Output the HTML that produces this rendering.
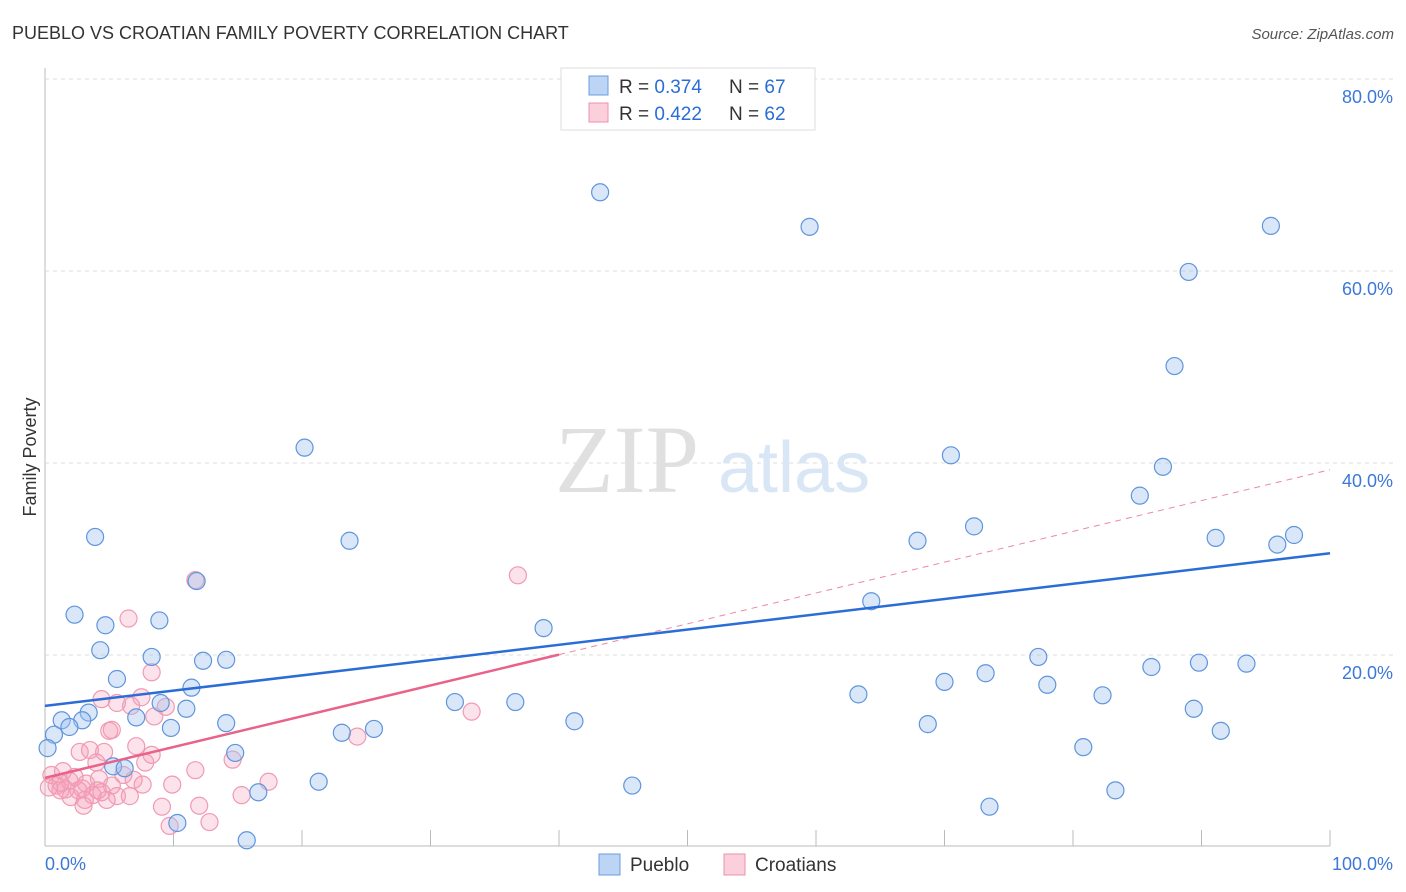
<!DOCTYPE html>
<html><head><meta charset="utf-8"><style>
body{margin:0;background:#fff;font-family:"Liberation Sans",sans-serif}
</style></head><body>
<svg id="chart" width="1406" height="892" style="display:block">
<text x="12" y="39" font-size="18" fill="#333">PUEBLO VS CROATIAN FAMILY POVERTY CORRELATION CHART</text>
<text x="1394" y="39" font-size="15" font-style="italic" fill="#555" text-anchor="end">Source: ZipAtlas.com</text>
<text x="36" y="457" font-size="18" fill="#333" transform="rotate(-90 36 457)" text-anchor="middle">Family Poverty</text>
<g id="grid"></g>
<text x="555" y="492" font-size="96" fill="#e0e0e0" font-family="Liberation Serif">ZIP</text>
<text x="718" y="492" font-size="72" fill="#d9e6f6">atlas</text>
<g id="pts"></g>
<g id="lines"></g>
<g>
<rect x="561" y="68" width="254" height="62" fill="#fff" stroke="#ddd"/>
<rect x="589" y="76" width="19" height="19" fill="#bcd5f5" stroke="#6a9be0"/>
<text x="619" y="93" font-size="19" fill="#333">R = <tspan fill="#2a6dd6">0.374</tspan></text>
<text x="729" y="93" font-size="19" fill="#333">N = <tspan fill="#2a6dd6">67</tspan></text>
<rect x="589" y="103" width="19" height="19" fill="#fbd0dc" stroke="#ee8fab"/>
<text x="619" y="120" font-size="19" fill="#333">R = <tspan fill="#2a6dd6">0.422</tspan></text>
<text x="729" y="120" font-size="19" fill="#333">N = <tspan fill="#2a6dd6">62</tspan></text>
</g>
<g>
<rect x="599" y="854" width="21" height="21" fill="#bcd5f5" stroke="#6a9be0"/>
<text x="630" y="871" font-size="19" fill="#333">Pueblo</text>
<rect x="724" y="854" width="21" height="21" fill="#fbd0dc" stroke="#ee8fab"/>
<text x="755" y="871" font-size="19" fill="#333">Croatians</text>
</g>
<text x="45" y="870" font-size="18" fill="#3b78d8">0.0%</text>
<text x="1393" y="870" font-size="18" fill="#3b78d8" text-anchor="end">100.0%</text>
</svg>
<script>
const blueX=[43.2,59.5,95.4,89.0,87.9,20.2,70.5,87.0,85.2,72.3,3.9,23.7,67.9,91.1,97.2,95.9,11.8,64.3,2.3,8.9,4.7,38.8,4.3,8.3,12.3,14.1,77.3,86.1,89.8,93.5,73.2,5.6,70.0,78.0,11.4,63.3,82.3,9.0,31.9,36.6,3.4,11.0,1.3,2.9,7.1,41.2,14.1,1.9,68.7,9.8,25.6,89.4,91.5,23.1,0.7,80.8,0.2,14.8,5.3,6.2,21.3,45.7,16.6,83.3,73.5,10.3,15.7];
const blueY=[68.2,64.6,64.7,59.9,50.1,41.6,40.8,39.6,36.6,33.4,32.3,31.9,31.9,32.2,32.5,31.5,27.7,25.6,24.2,23.6,23.1,22.8,20.5,19.8,19.4,19.5,19.8,18.75,19.2,19.1,18.1,17.5,17.2,16.9,16.6,15.9,15.8,15.0,15.1,15.1,14.0,14.4,13.2,13.2,13.5,13.1,12.9,12.5,12.8,12.4,12.3,14.4,12.1,11.9,11.7,10.4,10.3,9.8,8.4,8.2,6.8,6.4,5.7,5.9,4.2,2.5,0.7];
const pinkX=[36.8,11.7,6.5,8.3,4.4,7.5,5.6,6.7,9.4,8.5,33.2,5.0,5.2,24.3,7.1,8.3,2.7,3.5,4.6,14.6,7.8,4.0,1.4,11.7,6.1,4.2,2.3,0.5,1.9,3.2,0.9,17.4,5.2,7.6,9.9,1.2,2.6,4.4,3.7,5.6,2.0,6.6,3.1,4.8,15.3,3.0,9.1,12.0,12.8,9.7,1.2,4.1,0.3,1.6,2.9,6.9];
const pinkY=[28.3,27.8,23.8,18.2,15.4,15.6,15.0,14.7,14.6,13.6,14.1,12.1,12.2,11.5,10.5,9.6,9.9,10.1,9.9,9.1,8.8,8.8,7.9,8.0,7.5,7.1,7.3,7.5,6.9,6.6,6.4,6.8,6.4,6.5,6.5,5.9,5.9,5.7,5.4,5.3,5.2,5.3,4.9,4.9,5.4,4.3,4.2,4.3,2.6,2.2,6.7,5.9,6.2,6.0,6.1,7.0];
const yTicks=[20,40,60,80];
const blueLine=[14.7,30.6];
const pinkLine=[7.2,39.3];
const NS="http://www.w3.org/2000/svg";
const sx=v=>45+v*12.85, sy=v=>847-v*9.6;
function mk(t,a,p){const e=document.createElementNS(NS,t);for(const k in a)e.setAttribute(k,a[k]);p.appendChild(e);return e;}
const g=document.getElementById('grid');
mk('line',{x1:45,y1:68,x2:45,y2:846,stroke:'#bbb'},g);
mk('line',{x1:45,y1:846,x2:1330,y2:846,stroke:'#bbb'},g);
for(let k=1;k<=10;k++){const l=mk('line',{x1:45+k*128.5,y1:830,x2:45+k*128.5,y2:846,stroke:'#bbb'},g);}
yTicks.forEach(t=>{const l=mk('line',{x1:45,y1:sy(t),x2:1394,y2:sy(t),stroke:'#ddd','stroke-dasharray':'4,4'},g);
const tx=mk('text',{x:1393,y:sy(t)+24,'font-size':18,fill:'#3b78d8','text-anchor':'end'},g);tx.textContent=t.toFixed(1)+'%';});
const p=document.getElementById('pts');
pinkX.forEach((x,i)=>{const c=mk('circle',{cx:sx(x),cy:sy(pinkY[i]),r:8.5,fill:'rgba(246,160,185,0.3)',stroke:'#f09ab3','stroke-width':1.2},p);});
blueX.forEach((x,i)=>{const c=mk('circle',{cx:sx(x),cy:sy(blueY[i]),r:8.5,fill:'rgba(160,195,240,0.4)',stroke:'#5f95dd','stroke-width':1.2},p);});
const L=document.getElementById('lines');
const pm=(pinkLine[1]-pinkLine[0])/100;
const d=mk('line',{x1:sx(40),y1:sy(pinkLine[0]+pm*40),x2:sx(100),y2:sy(pinkLine[1]),stroke:'#e88aa6','stroke-width':1,'stroke-dasharray':'6,5'},L);

const pl=mk('line',{x1:sx(0),y1:sy(pinkLine[0]),x2:sx(40),y2:sy(pinkLine[0]+pm*40),stroke:'#e8628a','stroke-width':2.5},L);

const bl=mk('line',{x1:sx(0),y1:sy(blueLine[0]),x2:sx(100),y2:sy(blueLine[1]),stroke:'#2a6dd6','stroke-width':2.5},L);

</script>
</body></html>
